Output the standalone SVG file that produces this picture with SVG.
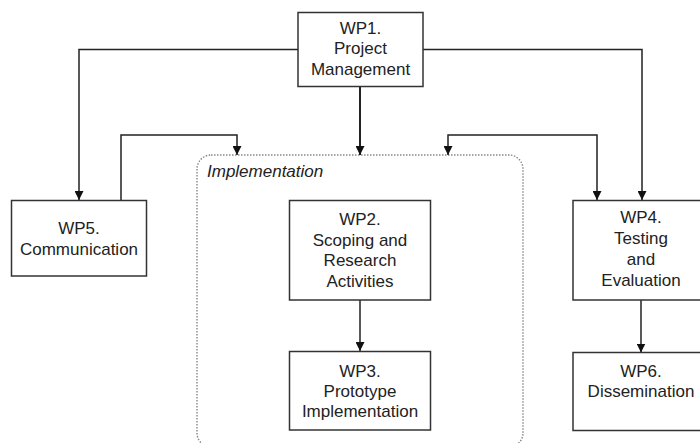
<svg xmlns="http://www.w3.org/2000/svg" width="700" height="443" viewBox="0 0 700 443">
<style>
.box{fill:#fff;stroke:#333;stroke-width:1.5}
.lbl{font-family:"Liberation Sans",Arial,sans-serif;font-size:17px;fill:#222;text-anchor:middle}
.edge{fill:none;stroke:#222;stroke-width:1.5}
.grp{fill:none;stroke:#888;stroke-width:1.4;stroke-dasharray:1.5 1.5}
.glbl{font-family:"Liberation Sans",Arial,sans-serif;font-size:17px;font-style:italic;fill:#222}
</style>
<defs>
<marker id="arr" viewBox="0 0 10 10" refX="10" refY="5" markerWidth="9" markerHeight="9" markerUnits="userSpaceOnUse" orient="auto-start-reverse">
<path d="M0,0 L10,5 L0,10 z" fill="#111"/>
</marker>
</defs>
<rect width="700" height="443" fill="#fff"/>
<g id="implementation">
<rect class="grp" x="197" y="155" width="326" height="292" rx="14" ry="14"/>
<text class="glbl" x="207" y="177">Implementation</text>
</g>
<g id="connectors">
<path class="edge" d="M298,49.5 H79 V200" marker-end="url(#arr)"/>
<path class="edge" d="M121,200 V135 H237 V155" marker-end="url(#arr)"/>
<path class="edge" d="M360,86 V155" style="stroke-width:2" marker-end="url(#arr)"/>
<path class="edge" d="M423,49.5 H642 V200" marker-end="url(#arr)"/>
<path class="edge" d="M448,155 V135 H597 V200" marker-start="url(#arr)" marker-end="url(#arr)"/>
<path class="edge" d="M360,300 V351" marker-end="url(#arr)"/>
<path class="edge" d="M641,300 V352.5" marker-end="url(#arr)"/>
</g>
<g id="wp1">
<rect class="box" x="298" y="12.5" width="125" height="74"/>
<text class="lbl" x="360.5" y="33.5">WP1.</text>
<text class="lbl" x="360.5" y="54">Project</text>
<text class="lbl" x="360.5" y="74.5">Management</text>
</g>
<g id="wp5">
<rect class="box" x="11.5" y="200.5" width="135" height="75.5"/>
<text class="lbl" x="79" y="233.5">WP5.</text>
<text class="lbl" x="79" y="255">Communication</text>
</g>
<g id="wp2">
<rect class="box" x="289.5" y="200.5" width="141" height="99.5"/>
<text class="lbl" x="360" y="225">WP2.</text>
<text class="lbl" x="360" y="245.5">Scoping and</text>
<text class="lbl" x="360" y="266">Research</text>
<text class="lbl" x="360" y="286.5">Activities</text>
</g>
<g id="wp3">
<rect class="box" x="289.5" y="351.5" width="141" height="78.5"/>
<text class="lbl" x="360" y="376.5">WP3.</text>
<text class="lbl" x="360" y="396.5">Prototype</text>
<text class="lbl" x="360" y="416.5">Implementation</text>
</g>
<g id="wp4">
<rect class="box" x="573" y="200.5" width="136" height="99.5"/>
<text class="lbl" x="641" y="222.5">WP4.</text>
<text class="lbl" x="641" y="243.5">Testing</text>
<text class="lbl" x="641" y="265">and</text>
<text class="lbl" x="641" y="286">Evaluation</text>
</g>
<g id="wp6">
<rect class="box" x="573" y="352.5" width="136" height="78"/>
<text class="lbl" x="641" y="376.5">WP6.</text>
<text class="lbl" x="641" y="396.5">Dissemination</text>
</g>
</svg>
